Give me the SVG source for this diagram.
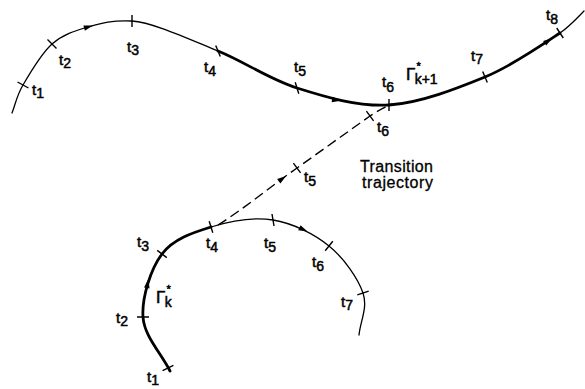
<svg xmlns="http://www.w3.org/2000/svg" width="585" height="389" viewBox="0 0 585 389">
<defs>
<style>
.thin{fill:none;stroke:#000;stroke-width:1.3;stroke-linecap:round}
.thick{fill:none;stroke:#000;stroke-width:2.8;stroke-linecap:round}
.dash{fill:none;stroke:#000;stroke-width:1.4;stroke-dasharray:10 5}
.tick{stroke:#000;stroke-width:1.4;fill:none}
text{font-family:"Liberation Sans","DejaVu Sans",sans-serif;font-size:15px;fill:#000;stroke:#000;stroke-width:0.5}
.sub{font-size:14px}
.g{font-size:17px}
.lab{font-size:16px;stroke-width:0.3}
</style>
<path id="ah" d="M5,0 L-4,-2.8 L-4,2.8 Z" fill="#000"/>
</defs>
<rect width="585" height="389" fill="#fff"/>
<g id="connectors">
<path id="transition" class="dash" d="M218,225 C245,208 270,187 297,168 L370,116 Q382,108 392,104"/>
<use href="#ah" transform="translate(282,179) rotate(-36)"/>
<path class="tick" d="M293.4,163.2 L300.6,172.8 M366.4,111.2 L373.6,120.8"/>
</g>
<g id="upper-curve">
<path class="thin" d="M12,113 C15.7,103.7 16.3,96.5 23,85 C29.7,73.5 41.2,53.7 52,44 C62.8,34.3 74.7,30.8 88,27 C101.3,23.2 112,20 132,21 C152,22 190.5,39.8 218,51"/>
<path class="thick" d="M218,51 C245.5,62.2 268.5,79 297,88 C325.5,97 357.7,106.8 389,105 C420.3,103.2 458.5,87.8 485,77 C511.5,66.2 543.7,43.8 560,33"/>
<path class="thin" d="M560,33 C570,26 578,17 584,11"/>
<use href="#ah" transform="translate(88,27) rotate(-16)"/>
<use href="#ah" transform="translate(336,100) rotate(8)"/>
<use href="#ah" transform="translate(548,41) rotate(-34)"/>
<path class="tick" d="M17.5,82 L28.5,88 M47.5,39.5 L56.5,48.5 M132,15 L132,27 M215.7,45.4 L220.3,56.6 M295.2,82.3 L298.8,93.7 M389,99 L389,111 M482.7,71.4 L487.3,82.6 M556.7,28 L563.3,38"/>
</g>
<g id="lower-curve">
<path class="thick" d="M170,371 C161,353 144.3,336.5 143,317 C141.7,297.5 150.7,269 162,254 C173.3,239 192.5,232.7 211,227"/>
<path class="thin" d="M211,227 C229.5,221.3 253.3,216.8 273,220 C292.7,223.2 314,233.8 329,246 C344,258.2 358,278.2 363,293 C368,307.8 360.3,321 359,335"/>
<use href="#ah" transform="translate(147.5,284) rotate(-80)"/>
<use href="#ah" transform="translate(303,229.5) rotate(25)"/>
<path class="tick" d="M173.4,365.3 L162.6,370.7 M137,317 L149,317 M166.8,257.6 L157.2,250.4 M212.8,232.7 L209.2,221.3 M272,214 L274,226 M325.2,250.7 L332.8,241.3 M357.3,294.9 L368.7,291.1"/>
</g>
<g id="labels-upper">
<text x="32" y="95">t<tspan class="sub" dy="3">1</tspan></text>
<text x="59" y="65">t<tspan class="sub" dy="3">2</tspan></text>
<text x="127" y="52">t<tspan class="sub" dy="3">3</tspan></text>
<text x="204" y="72">t<tspan class="sub" dy="4">4</tspan></text>
<text x="294" y="72">t<tspan class="sub" dy="4">5</tspan></text>
<text x="382" y="87">t<tspan class="sub" dy="5">6</tspan></text>
<text x="471" y="61">t<tspan class="sub" dy="3">7</tspan></text>
<text x="546" y="20">t<tspan class="sub" dy="4">8</tspan></text>
<text class="g" x="406" y="80">Γ<tspan font-size="11" dx="1" dy="-10">*</tspan><tspan class="sub" dx="-6" dy="14">k+1</tspan></text>
</g>
<g id="labels-transition">
<text x="377" y="132">t<tspan class="sub" dy="4">6</tspan></text>
<text x="304" y="182">t<tspan class="sub" dy="4">5</tspan></text>
<text class="lab" x="360" y="172" textLength="73">Transition</text>
<text class="lab" x="362" y="188" textLength="71">trajectory</text>
</g>
<g id="labels-lower">
<text x="147" y="382">t<tspan class="sub" dy="3">1</tspan></text>
<text x="116" y="323">t<tspan class="sub" dy="3">2</tspan></text>
<text x="137" y="247">t<tspan class="sub" dy="4">3</tspan></text>
<text x="206" y="248">t<tspan class="sub" dy="4">4</tspan></text>
<text x="264" y="248">t<tspan class="sub" dy="4">5</tspan></text>
<text x="312" y="267">t<tspan class="sub" dy="4">6</tspan></text>
<text x="341" y="307">t<tspan class="sub" dy="3">7</tspan></text>
<text class="g" x="156" y="303">Γ<tspan font-size="11" dx="1" dy="-10">*</tspan><tspan class="sub" dx="-6" dy="14">k</tspan></text>
</g>
</svg>
